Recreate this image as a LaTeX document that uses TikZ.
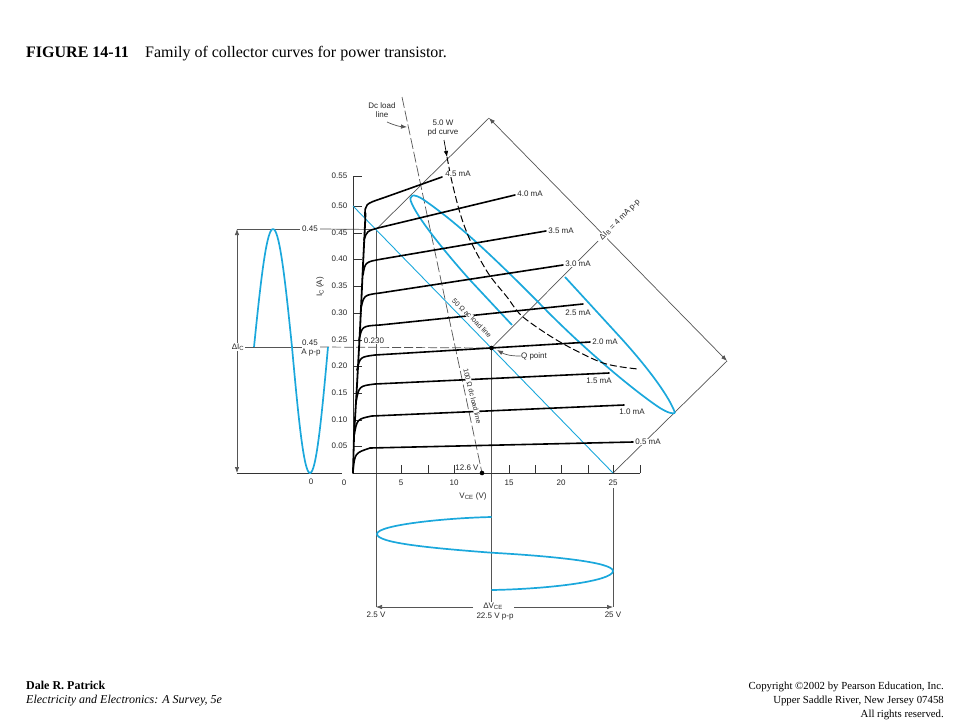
\documentclass[tikz,border=0pt]{standalone}
\usepackage{fontspec}
\setmainfont{Liberation Serif}
\setsansfont{Liberation Sans}
\usetikzlibrary{arrows.meta}
\definecolor{sigblue}{HTML}{1BA8DC}
\definecolor{rulegray}{HTML}{555555}
\tikzset{
  lab/.style={font=\sffamily\fontsize{8}{9}\selectfont, text=black!85, inner sep=0.3pt, align=center},
  labw/.style={lab, fill=white},
  labs/.style={labw, font=\sffamily\fontsize{7}{8}\selectfont},
  axisline/.style={line width=0.9pt, black!80},
  guide/.style={line width=0.7pt, rulegray},
  curve/.style={line width=1.6pt, black, line cap=round},
  signal/.style={line width=1.7pt, sigblue},
}
\begin{document}
\begin{tikzpicture}[>={Latex[length=6pt,width=4.5pt]}, x=1pt, y=-1pt]
  \useasboundingbox (0,0) rectangle (960,720);

% points
  \coordinate (O) at (353,473);
  \coordinate (Q) at (491.5,348);
  \coordinate (A) at (376,229.5);
  \coordinate (Apex) at (489,118);
  \coordinate (Corner) at (727,361);
  \coordinate (E) at (613,473);
  \coordinate (S) at (353,206);
  \coordinate (Dot) at (482,473);

% heading and footer
  \node[anchor=base west, inner sep=0, font=\fontsize{16}{18}\selectfont\bfseries] (fig) at (26,57) {FIGURE 14-11};
  \node[anchor=base west, inner sep=0, font=\fontsize{16}{18}\selectfont] (cap) at (145,57) {Family of collector curves for power transistor.};
  \node[anchor=base west, inner sep=0, font=\fontsize{12}{14}\selectfont\bfseries] (auth) at (26,689) {Dale R. Patrick};
  \node[anchor=base west, inner sep=0, font=\fontsize{12}{14}\selectfont\itshape] (book) at (26,703) {Electricity and Electronics: A Survey, 5e};
  \node[anchor=base east, inner sep=0, font=\fontsize{10.8}{12}\selectfont] (copy1) at (944,689) {Copyright ©2002 by Pearson Education, Inc.};
  \node[anchor=base east, inner sep=0, font=\fontsize{10.8}{12}\selectfont] (copy2) at (944,703) {Upper Saddle River, New Jersey 07458};
  \node[anchor=base east, inner sep=0, font=\fontsize{10.8}{12}\selectfont] (copy3) at (944,717) {All rights reserved.};

% guide lines
  \draw[guide] (A) -- (376,607);
  \draw[guide] (Q) -- (491.5,602);
  \draw[guide] (E |- 0,488) -- (613,607);
  \draw[guide] (A) -- (Apex);
  \draw[guide] (E) -- (Corner);
  \draw[guide, <->] (Apex) -- (Corner);
  \draw[guide] (Q) -- (598,241);
  \draw[guide] (237,229) -- (300,229);
  \draw[guide] (320,229) -- (A);
  \draw[guide] (245,347) -- (302,347);
  \draw[guide, dash pattern=on 9pt off 3pt] (320,347) -- (Q);
  \draw[guide, dash pattern=on 11pt off 3pt] (402,97) -- (Dot);
  \draw[guide, <->] (237,229) -- (237,473);
  \draw[guide, ->] (473,607) -- (376,607);
  \draw[guide, ->] (514,607) -- (613,607);

% axes
  \draw[axisline] (237,473) -- (342,473);
  \draw[axisline] (353,176) -- (O) -- (640,473);
  \foreach \y in {176,206,233,259,286,313,340,366,393,420,446}
    \draw[axisline] (353,\y) -- (362,\y);
  \foreach \x in {401,428,454,509,535,561,588,613,640}
    \draw[axisline] (\x,465) -- (\x,473);

% load lines and signals
  \draw[line width=0.9pt, sigblue] (S) -- (E);
  \draw[signal] plot[domain=254:292, samples=40] (\x,{347-118*sin(180*(\x-254)/38)});
  \draw[signal] plot[domain=292:328, samples=40] (\x,{347+126*sin(180*(\x-292)/36)});
  \draw[signal] (491.5,517) .. controls (445,518) and (377,525) .. (377,534)
     .. controls (377,543) and (430,548) .. (491.5,552.7)
     .. controls (550,556) and (613,562) .. (613,571)
     .. controls (613,581) and (550,589) .. (491.5,590);
  \draw[signal] (512,325) -- (470,280) .. controls (452,260) and (420,222) .. (412,204) .. controls (407,194) and (414,193) .. (424,200)
     .. controls (450,218) and (480,243) .. (543,307) .. controls (590,355) and (640,395) .. (660,408) .. controls (668,413) and (673,414) .. (675,413);
  \draw[signal] (565,277) -- (620,337) .. controls (650,370) and (670,398) .. (675,413);

% collector curves
  \draw[curve, line width=1.8pt] (O) -- (354,436) -- (357,385) -- (360,330) -- (363,265) -- (365,225) -- (365.5,213);
  \foreach \a/\b/\c/\d/\e/\f/\g/\h in {
      353/470/355/453/370/448/633/442,
      354/436/357/419/372/416/624/405,
      356/402/359/386/375/384/609/373,
      357/370/360/357/375/355/590/342,
      359/340/362/326/380/325/583/304,
      361/308/364/295/380/293/563/265,
      363/275/365/262/382/259/546/231,
      364/240/367/231/378/228/515/195,
      365/216/365/204/383/198/442/177}
    \draw[curve] (\a,\b) .. controls (\c,\d) .. (\e,\f) -- (\g,\h);

% 5 W curve
  \draw[line width=1pt, black, dash pattern=on 7pt off 3pt] plot[smooth] coordinates {(447,157) (452,182) (460,213) (470,240) (488,273) (507,297) (523,317) (560,342) (603,363) (638,369)};

  \fill (Q) circle (2.3);
  \fill (Dot) circle (2.3);

% axis labels
  \foreach \y/\t in {176/0.55,206/0.50,233/0.45,259/0.40,286/0.35,313/0.30,340/0.25,366/0.20,393/0.15,420/0.10,446/0.05}
    \node[lab] (ic\y) at (339.5,\y) {\t};
  \foreach \x/\t in {344/0,401/5,454/10,509/15,561/20,613/25}
    \node[lab] (vce\x) at (\x,483) {\t};
  \node[lab] (zero) at (311,482) {0};
  \node[lab, rotate=90] (ic) at (320,287) {I\textsubscript{C} (A)};
  \node[lab] (vce) at (473,496) {V\textsubscript{CE} (V)};

% curve labels
  \foreach \x/\y/\t in {458/174/4.5,530/194/4.0,561/231/3.5,578/264/3.0,578/313/2.5,605/342/2.0,599/381/1.5,632/412/1.0,648/442/0.5}
    \node[labw] (ib\t) at (\x,\y) {\t\ mA};

% other labels
  \node[labw] (top45) at (310,229) {0.45};
  \node[lab] (mid45) at (310,343) {0.45};
  \node[lab] (app) at (311,353) {A p-p};
  \node[labw] (dic) at (238,347) {ΔI\textsubscript{C}};
  \node[labw] (ic230) at (374,341) {0.230};
  \node[labw] (v126) at (467,468) {12.6 V};
  \node[labw, rotate=45] (dib) at (620,220) {ΔI\textsubscript{B} = 4 mA p-p};
  \node[labs, rotate=-45] (ac50) at (472,318) {50 Ω ac load line};
  \node[labs, rotate=-76] (dc100) at (472.5,396) {100 Ω dc load line};
  \node[lab] (dcl) at (382,110) {Dc load\\line};
  \node[lab] (pdc) at (443,128) {5.0 W\\pd curve};
  \node[lab] (qlab) at (534,356) {Q point};
  \node[labw] (dvce) at (493,606) {ΔV\textsubscript{CE}};
  \node[lab] (vpp) at (495,617) {22.5 V p-p};
  \node[lab] (v25) at (376,615) {2.5 V};
  \node[lab] (v250) at (613,615) {25 V};

% pointers
  \draw[guide, ->] (387,122) to[bend right=10] (407,127);
  \draw[guide, ->, black] (444,140) -- (447,157);
  \draw[guide, ->] (qlab.west) to[bend left=15] (497,350);
\end{tikzpicture}
\end{document}
